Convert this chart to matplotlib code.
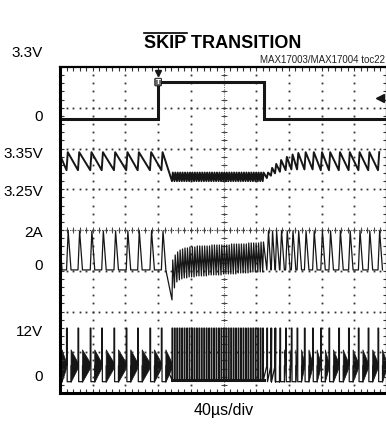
import numpy as np
import matplotlib
matplotlib.use("Agg")
import matplotlib.pyplot as plt
from matplotlib.lines import Line2D
from matplotlib.patches import Polygon

# ---- data (time in us, 40us/div) ----
skip_t = [0, 120, 120, 250, 250, 400]
skip_v = [0, 0, 3.3, 3.3, 0, 0]

# skip-mode switching pulses before / after the forced-PWM window
pulses_left = [-3, 8, 22, 37, 51, 66, 81, 95, 110, 124]
pulses_right = [253, 258, 263, 269, 276, 283, 290, 299, 309, 319, 329, 341, 353, 365, 377, 389]
# output voltage peak / trough for each skip pulse
vpk_left = [3.352] * len(pulses_left)
vtr_left = [3.306] * len(pulses_left)
vpk_right = [3.300, 3.312, 3.322, 3.332, 3.340, 3.346, 3.350, 3.352, 3.352, 3.352, 3.352, 3.352, 3.352, 3.352, 3.352, 3.352]
vtr_right = [3.286, 3.292, 3.298, 3.302, 3.306, 3.308, 3.308, 3.308, 3.308, 3.306, 3.306, 3.306, 3.306, 3.306, 3.306, 3.306]
ipk_skip = 1.95

# forced-PWM pulses
pulses_pwm = [137, 140, 143, 146, 149, 152, 155, 158, 161, 164, 167, 170, 173, 176, 179, 182,
              185, 188, 191, 194, 197, 200, 203, 206, 209, 212, 215, 218, 221, 224, 227, 230,
              233, 236, 239, 242, 245, 248]
imax_pwm = [0.5, 0.75, 0.9, 1.0, 1.05, 1.1, 1.1, 1.15, 1.15, 1.15, 1.2, 1.2, 1.2, 1.2, 1.2, 1.2,
            1.25, 1.25, 1.25, 1.25, 1.25, 1.25, 1.25, 1.25, 1.3, 1.3, 1.3, 1.3, 1.3, 1.3, 1.3, 1.35,
            1.35, 1.35, 1.35, 1.35, 1.4, 1.4]
imin_pwm = [-1.5, -0.9, -0.6, -0.5, -0.45, -0.4, -0.4, -0.35, -0.35, -0.35, -0.3, -0.3, -0.3, -0.3, -0.3, -0.25,
            -0.25, -0.25, -0.25, -0.25, -0.25, -0.2, -0.2, -0.2, -0.2, -0.2, -0.2, -0.15, -0.15, -0.15, -0.15, -0.15,
            -0.1, -0.1, -0.1, -0.1, -0.1, -0.1]
vhi_pwm = 3.300
vlo_pwm = 3.278
vin = 12.0
vring = 3.3

# channel position on screen (offset in div, gain in div per unit)
ch1_off, ch1_gain = 6.72, 0.2758
ch2_off, ch2_gain = -26.27, 9.6
ch3_off, ch3_gain = 3.02, 0.49
ch4_off, ch4_gain = 0.32, 0.106

ylabels = ["3.3V", "0", "3.35V", "3.25V", "2A", "0", "12V", "0"]
ylabel_px = [53, 117, 154, 192, 233, 266, 332, 377]

NARROW = ["Liberation Sans Narrow", "Liberation Sans", "DejaVu Sans"]
INK = "#161616"

fig = plt.figure(figsize=(3.86, 4.26), dpi=100)
ax = fig.add_axes([60 / 386, 33 / 426, 327 / 386, 326 / 426])
ax.set_xlim(0, 400)
ax.set_ylim(0, 8)

# ---- graticule ----
for gx in range(40, 400, 40):
    ys = np.arange(0.2, 8, 0.2)
    ax.plot([gx] * len(ys), ys, ls="none", marker="s", ms=1.3, mew=0, color="#333333")
for gy in range(1, 8):
    xs = np.arange(8, 400, 8)
    ax.plot(xs, [gy] * len(xs), ls="none", marker="s", ms=1.3, mew=0, color="#333333")
ax.plot([200, 200], [0, 8], ls=(0, (1, 1.6)), lw=0.6, color="#444444")
ax.plot([0, 400], [4, 4], ls=(0, (1, 1.2)), lw=0.8, color="#333333")
ax.plot([200] * 39, np.arange(0.2, 8, 0.2), ls="none", marker="_", ms=4, mew=0.7, color="#444444")
ax.plot(np.arange(8, 400, 8), [4] * 49, ls="none", marker="|", ms=4, mew=0.7, color="#444444")

ax.set_xticks(np.arange(0, 401, 40))
ax.set_yticks(np.arange(0, 9, 1))
ax.set_xticks(np.arange(0, 401, 8), minor=True)
ax.set_yticks(np.arange(0, 8.01, 0.2), minor=True)
ax.tick_params(which="both", direction="in", length=3, width=0.8, color="#333333",
               top=True, right=True, labelleft=False, labelbottom=False)
for s in ["left", "bottom"]:
    ax.spines[s].set_linewidth(2.2)
ax.spines["top"].set_linewidth(1.6)
ax.spines["right"].set_linewidth(1.6)

# ---- CH1: SKIP ----
ax.plot(skip_t, ch1_off + np.array(skip_v) * ch1_gain, color=INK, lw=2.2, solid_joinstyle="miter")

# ---- CH2: output voltage ----
pts = []
for t, pk, tr in zip(pulses_left + pulses_right, vpk_left + vpk_right, vtr_left + vtr_right):
    pts.append((t, tr))
    pts.append((t + 1.5, pk))
for t in pulses_pwm:
    pts.append((t, vlo_pwm))
    pts.append((t + 1.0, vhi_pwm))
pts.sort()
vt = np.array([p[0] for p in pts])
vv = np.array([p[1] for p in pts])
ax.plot(vt, ch2_off + vv * ch2_gain, color=INK, lw=1.4)

# ---- CH3: inductor current ----
pts = []
for t in pulses_left + pulses_right:
    pts += [(t, 0.0), (t + 2.0, ipk_skip), (t + 5.5, 0.0)]
for t, hi, lo in zip(pulses_pwm, imax_pwm, imin_pwm):
    pts += [(t, lo), (t + 0.9, hi)]
pts.sort()
it = np.array([p[0] for p in pts])
iv = np.array([p[1] for p in pts])
ax.plot(it, ch3_off + iv * ch3_gain, color=INK, lw=0.9)

# ---- CH4: LX ----
all_pulses = pulses_left + pulses_pwm + pulses_right
pts = []
for t in pulses_left + pulses_right:
    pts += [(t, vring), (t, vin), (t + 0.8, vin), (t + 0.8, -0.4), (t + 5.5, -0.4), (t + 5.5, vring)]
for t in pulses_pwm:
    pts += [(t, 0.0), (t, vin), (t + 0.8, vin), (t + 0.8, 0.0)]
lt = [p[0] for p in pts]
lv = np.array([p[1] for p in pts])
order = np.argsort(lt, kind="stable")
ax.plot(np.array(lt)[order], ch4_off + lv[order] * ch4_gain, color=INK, lw=0.9)
ax.plot([137, 250], [ch4_off, ch4_off], color=INK, lw=2.2)
# DCM ringing after each skip pulse
skip_all = pulses_left + pulses_right
for k, t in enumerate(skip_all):
    t_next = all_pulses[all_pulses.index(t) + 1] if t != skip_all[-1] else 400
    poly = [(t + 5.5, ch4_off + 7.0 * ch4_gain), (t_next, ch4_off + 4.0 * ch4_gain),
            (t_next, ch4_off + 2.6 * ch4_gain), (t + 5.5, ch4_off - 0.6 * ch4_gain)]
    ax.add_patch(Polygon(poly, closed=True, fc=INK, ec=INK, lw=0.5))

# ---- scope markers ----
ax.plot([120], [7.86], marker="v", ms=5, color=INK, clip_on=False)
ax.text(120, ch1_off + 3.3 * ch1_gain, "T", fontsize=5, ha="center", va="center", color="white",
        fontweight="bold", bbox=dict(boxstyle="round,pad=0.12", fc="#666666", ec=INK, lw=0.6))
ax.plot([392], [7.24], marker="<", ms=6, color=INK)

# ---- text ----
TSIZE = 13
title = fig.text(223 / 386, 1 - 43 / 426, "SKIP TRANSITION", family=NARROW, fontweight="bold",
                 fontsize=TSIZE, ha="center", va="center")
fig.text(385 / 386, 1 - 60 / 426, "MAX17003/MAX17004 toc22", family=NARROW, fontsize=7,
         ha="right", va="center", color="#222222")
for lab, py in zip(ylabels, ylabel_px):
    fig.text(43 / 386, 1 - py / 426, lab, family=NARROW, fontsize=11, ha="right", va="center")
fig.text(224 / 386, 1 - 411 / 426, "40\u00b5s/div", family=NARROW, fontsize=11.5, ha="center", va="center")

# overline over SKIP
fig.canvas.draw()
r = fig.canvas.get_renderer()
bb = title.get_window_extent(r)
tmp = fig.text(0, 0, "SKIP", family=NARROW, fontweight="bold", fontsize=TSIZE)
w = tmp.get_window_extent(r).width
tmp.remove()
y_line = (bb.y1 + 1.5) / fig.bbox.height
fig.add_artist(Line2D([bb.x0 / fig.bbox.width, (bb.x0 + w) / fig.bbox.width], [y_line, y_line],
                      color="black", lw=1.2))

fig.savefig("out.png", dpi=100)
